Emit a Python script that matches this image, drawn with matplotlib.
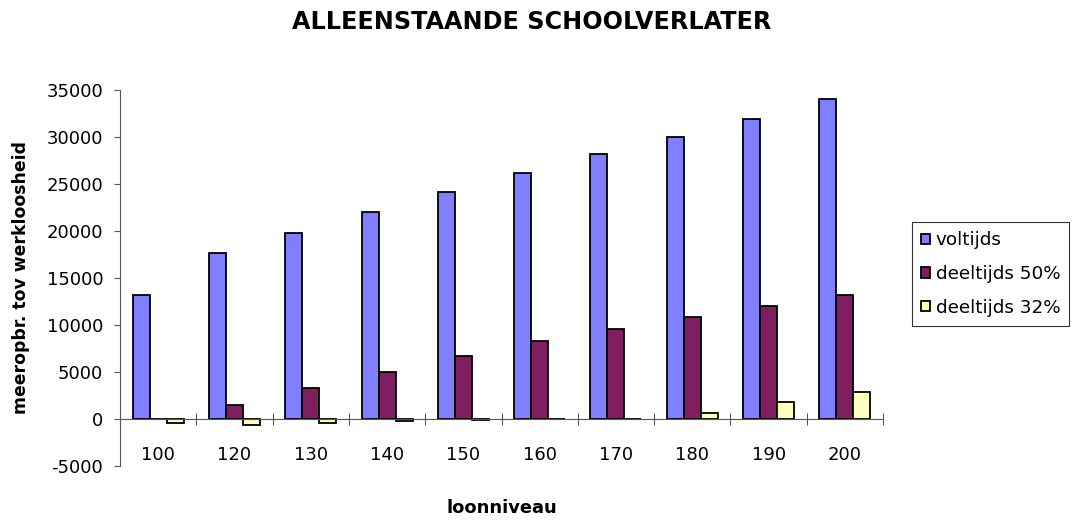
import matplotlib
matplotlib.use("Agg")
import matplotlib.pyplot as plt
import numpy as np

plt.rcParams['font.family'] = ['DejaVu Sans']
plt.rcParams['axes.unicode_minus'] = False

categories = ["100", "120", "130", "140", "150", "160", "170", "180", "190", "200"]
voltijds = [13200, 17700, 19800, 22000, 24100, 26200, 28200, 30000, 31900, 34000]
deeltijds50 = [50, 1500, 3300, 5000, 6700, 8300, 9600, 10800, 12000, 13200]
deeltijds32 = [-400, -600, -400, -200, -150, -50, 50, 650, 1800, 2900]
series_names = ["voltijds", "deeltijds 50%", "deeltijds 32%"]
colors = ["#8080FF", "#7F1F5F", "#FFFFC0"]

fig = plt.figure(figsize=(10.74, 5.23), dpi=100)
ax = fig.add_axes([0.1117, 0.109, 0.7105, 0.719])

x = np.arange(len(categories))
w = 0.223
for i, (vals, name, c) in enumerate(zip([voltijds, deeltijds50, deeltijds32], series_names, colors)):
    ax.bar(x + (i - 1) * w, vals, width=w, color=c, edgecolor="black", linewidth=1.3, label=name, zorder=3)

ax.set_xlim(-0.5, len(categories) - 0.5)
ax.set_ylim(-5000, 35000)
ax.set_yticks(np.arange(-5000, 35001, 5000))
ax.tick_params(axis='y', direction='out', length=4, color='#555555', labelsize=13, pad=8)

for s in ['top', 'right']:
    ax.spines[s].set_visible(False)
ax.spines['left'].set_color('#555555')
ax.spines['bottom'].set_color('#555555')
ax.spines['bottom'].set_position(('data', 0))
ax.spines['bottom'].set_zorder(4)

ax.set_xticks(x)
ax.set_xticklabels(categories)
ax.tick_params(axis='x', which='major', length=0, labelsize=13, pad=19.5)
ax.set_xticks(np.arange(-0.5, len(categories), 1.0), minor=True)
ax.tick_params(axis='x', which='minor', direction='inout', length=9, color='#333333')

ax.set_ylabel("meeropbr. tov werkloosheid", fontsize=12.4, fontweight='bold', labelpad=12)
ax.set_xlabel("loonniveau", fontsize=12.9, fontweight='bold', labelpad=25)
fig.suptitle("ALLEENSTAANDE SCHOOLVERLATER", fontsize=17.2, fontweight='bold', x=0.495, y=0.98)

leg = ax.legend(loc='upper left', bbox_to_anchor=(0.849, 0.575), bbox_transform=fig.transFigure,
                frameon=True, fancybox=False, edgecolor='black', fontsize=13.2,
                handlelength=0.5, handleheight=0.5, handletextpad=0.3, borderpad=0.5,
                labelspacing=0.85, borderaxespad=0)
leg.get_frame().set_linewidth(0.8)

fig.savefig("out.png", dpi=100)
